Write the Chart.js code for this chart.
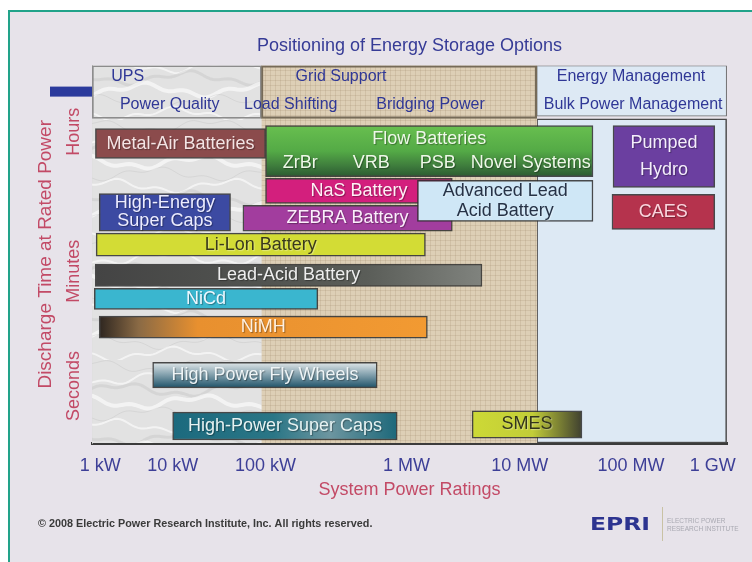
<!DOCTYPE html>
<html>
<head>
<meta charset="utf-8">
<title>Positioning of Energy Storage Options</title>
<script src="https://cdn.jsdelivr.net/npm/chart.js@4.4.1/dist/chart.umd.min.js"></script>
<style>
  html, body { margin: 0; padding: 0; background: #fff; overflow: hidden; }
  canvas { display: block; }
</style>
</head>
<body>
<canvas id="storageChart" width="752" height="562"></canvas>
<script>
// Power rating axis
const tickLabels = ['1 kW', '10 kW', '100 kW', '1 MW', '10 MW', '100 MW', '1 GW'];
// where each decade sits on the printed axis (it is not evenly spaced)
const tickSpots = [0, 0.71, 1.62, 3.0, 4.11, 5.2, 6.0];

// Discharge time axis (relative height, 0 = bottom, 100 = top)
const timeLabels = ['Seconds', 'Minutes', 'Hours'];
const timeSpots = [15.1, 45.5, 82.5];

// Storage technologies
const techNames = [
    'Metal-Air Batteries',
    'Flow Batteries\n   ZrBr       VRB      PSB   Novel Systems',
    'Pumped\nHydro',
    'CAES',
    'NaS Battery',
    'ZEBRA Battery',
    'High-Energy\nSuper Caps',
    'Advanced Lead\nAcid Battery',
    'Li-Lon Battery',
    'Lead-Acid Battery',
    'NiCd',
    'NiMH',
    'High Power Fly Wheels',
    'High-Power Super Caps',
    'SMES'
];
const powerMinKW = [0.86, 100, 68900, 67400, 100, 57, 0.97, 1250, 0.88, 0.855, 0.83, 0.97, 5.3, 10, 3800];
const powerMaxKW = [100, 45500, 1060000, 1060000, 2540, 2540, 42, 45500, 1470, 4640, 235, 1530, 620, 860, 36200];
const timeLow = [75.4, 70.6, 67.7, 56.6, 63.5, 56.1, 56.1, 58.7, 49.5, 41.5, 35.4, 27.8, 14.6, 0.8, 1.3];
const timeHigh = [83.3, 84.1, 84.1, 65.9, 70.1, 63.0, 66.1, 69.6, 55.6, 47.4, 41.0, 33.6, 21.4, 8.2, 8.5];

// Application zones
const zoneMinKW = [0.78, 90, 14200];
const zoneMaxKW = [90, 14200, 1480000];
const appNames = ['UPS', 'Power Quality', 'Grid Support', 'Load Shifting', 'Bridging Power', 'Energy Management', 'Bulk Power Management'];
const appKW = [2.4, 9.1, 343, 151, 1630, 100000, 106000];
const appRow = [97.1, 89.7, 97.1, 89.7, 89.7, 97.1, 89.7];

// Styles
const techFills = [
    '#8b4b4c',
    { dir: 'v', stops: [[0, '#68bf4f'], [0.5, '#54aa46'], [0.78, '#3f7e3d'], [1, '#2c5a31']] },
    '#6b3fa0',
    '#b5334d',
    '#d31f7d',
    '#a23d9e',
    '#3c4aa2',
    '#cfe7f6',
    '#d3dc35',
    { dir: 'h', stops: [[0, '#444444'], [0.7, '#5a5d58'], [1, '#80837e']] },
    '#3ab6cf',
    { dir: 'h', stops: [[0, '#2e2620'], [0.12, '#8a6a45'], [0.3, '#e8902f'], [1, '#f29a32']] },
    { dir: 'v', stops: [[0, '#e2e8ea'], [0.45, '#8aa6b2'], [1, '#1e5268']] },
    { dir: 'h', stops: [[0, '#1c6a7e'], [0.45, '#2a7686'], [0.7, '#6d96a0'], [1, '#1d687a']] },
    { dir: 'h', stops: [[0, '#cdd936'], [0.55, '#c2cd38'], [1, '#3f4030']] }
];
const techText = ['#f4e4e4', '#eef8e8', '#f4eefc', '#fbd6de', '#fff0f6', '#fbeefb', '#ececff', '#263246',
    '#3a3a1c', '#eeeeee', '#eef8ff', '#fff0e0', '#eef4f6', '#e6f2f2', '#33351c'];

const FONT = "'Liberation Sans', Arial, sans-serif";
const axisMin = -0.08;
const axisMax = 6.14;

// Convert kW to a position on the printed axis
function toAxis(kw) {
    const L = Math.log10(kw);
    const i = Math.max(0, Math.min(tickSpots.length - 2, Math.floor(L)));
    return tickSpots[i] + (L - i) * (tickSpots[i + 1] - tickSpots[i]);
}

// Bar thickness follows the discharge-time span
function spanThickness(ctx) {
    const ys = ctx.chart.scales.y;
    const s = ctx.dataset.span;
    if (!ys) return 10;
    return Math.abs(ys.getPixelForValue(s[0]) - ys.getPixelForValue(s[1]));
}

function boxFill(spec) {
    if (typeof spec !== 'object' || spec.stops === undefined) return spec;
    return (ctx) => {
        const chart = ctx.chart;
        if (!chart.chartArea) return spec.stops[spec.stops.length - 1][1];
        const ds = ctx.dataset;
        const xs = chart.scales.x, ys = chart.scales.y;
        const x0 = xs.getPixelForValue(ds.data[0].x[0]);
        const x1 = xs.getPixelForValue(ds.data[0].x[1]);
        const y0 = ys.getPixelForValue(ds.span[1]);
        const y1 = ys.getPixelForValue(ds.span[0]);
        const g = spec.dir === 'h'
            ? chart.ctx.createLinearGradient(x0, 0, x1, 0)
            : chart.ctx.createLinearGradient(0, y0, 0, y1);
        spec.stops.forEach(s => g.addColorStop(s[0], s[1]));
        return g;
    };
}

// Background textures
function marblePattern() {
    const size = 120;
    const c = document.createElement('canvas');
    c.width = size; c.height = size;
    const g = c.getContext('2d');
    g.fillStyle = '#e2e2e2';
    g.fillRect(0, 0, size, size);
    g.lineCap = 'round';
    g.lineJoin = 'round';
    for (let k = 0; k < 10; k++) {
        g.strokeStyle = k % 2 ? 'rgba(255,255,255,0.6)' : 'rgba(165,165,165,0.2)';
        g.lineWidth = 1 + (k % 4);
        g.beginPath();
        for (let t = 0; t <= size; t += 3) {
            const a = 2 * Math.PI * t / size;
            const y = k * 12 + 6 + 5 * Math.sin(a + k * 2.3) + 2.5 * Math.sin(3 * a + k);
            if (t === 0) g.moveTo(t, y); else g.lineTo(t, y);
        }
        g.stroke();
    }
    return g.createPattern(c, 'repeat');
}

function weavePattern() {
    const c = document.createElement('canvas');
    c.width = 5; c.height = 5;
    const g = c.getContext('2d');
    g.fillStyle = '#ddcfb6';
    g.fillRect(0, 0, 5, 5);
    g.fillStyle = 'rgba(140,118,86,0.16)';
    g.fillRect(0, 0, 5, 1);
    g.fillRect(0, 0, 1, 5);
    return g.createPattern(c, 'repeat');
}

function boxDataset(kwLo, kwHi, lo, hi, extra) {
    return Object.assign({
        data: [{ y: (lo + hi) / 2, x: [toAxis(kwLo), toAxis(kwHi)] }],
        span: [lo, hi],
        barThickness: spanThickness,
        grouped: false,
        borderSkipped: false
    }, extra);
}

const datasets = [];

// Zone backgrounds
const zoneFills = [marblePattern(), weavePattern(), '#dde9f4'];
datasets.push(boxDataset(zoneMinKW[0], zoneMaxKW[0], 0, 100, { backgroundColor: zoneFills[0], borderWidth: 0, order: 100 }));
datasets.push(boxDataset(zoneMinKW[1], zoneMaxKW[1], 0, 100, { backgroundColor: zoneFills[1], borderWidth: 0, order: 100 }));
datasets.push(boxDataset(zoneMinKW[2], zoneMaxKW[2], 0, 85.9, { backgroundColor: zoneFills[2], borderWidth: 1.5, borderColor: '#4a4a4a', order: 100 }));
datasets.push(boxDataset(zoneMinKW[2], zoneMaxKW[2], 86.6, 100, { backgroundColor: zoneFills[2], borderWidth: 1, borderColor: '#6a6a6a', order: 100 }));
// Header frames for the two left zones
datasets.push(boxDataset(zoneMinKW[0], zoneMaxKW[0], 86, 100, { backgroundColor: 'rgba(0,0,0,0)', borderWidth: 1, borderColor: '#8c8c8c', order: 90 }));
datasets.push(boxDataset(zoneMinKW[1], zoneMaxKW[1], 86, 100, { backgroundColor: 'rgba(0,0,0,0)', borderWidth: 1.5, borderColor: '#766b58', order: 90 }));

// Technology boxes
techNames.forEach((name, i) => {
    datasets.push(boxDataset(powerMinKW[i], powerMaxKW[i], timeLow[i], timeHigh[i], {
        label: name,
        caption: name,
        captionColor: techText[i],
        backgroundColor: boxFill(techFills[i]),
        borderWidth: 1.5,
        borderColor: 'rgba(45,45,45,0.85)',
        order: techNames.length - i
    }));
});

// Page frame, footer and logo
const pagePlugin = {
    id: 'page',
    beforeDraw(chart) {
        const { ctx, width, height, chartArea } = chart;
        ctx.save();
        ctx.fillStyle = '#ffffff';
        ctx.fillRect(0, 0, width, height);
        ctx.fillStyle = '#e7e3ea';
        ctx.fillRect(9, 11, width - 9, height - 11);
        ctx.fillStyle = '#22a38a';
        ctx.fillRect(8, 10, width - 8, 2);
        ctx.fillRect(8, 10, 2, height - 10);
        ctx.fillStyle = '#2b3a9c';
        ctx.fillRect(chartArea.left - 42, chartArea.top + 21, 42, 10);
        ctx.restore();
    },
    afterDraw(chart) {
        const ctx = chart.ctx;
        ctx.save();
        ctx.textBaseline = 'middle';
        ctx.textAlign = 'left';
        ctx.fillStyle = '#3a3a3a';
        ctx.font = 'bold 10.8px ' + FONT;
        ctx.fillText('\u00A9 2008 Electric Power Research Institute, Inc. All rights reserved.', 38, 524);

        // EPRI mark
        ctx.save();
        ctx.translate(590, 526);
        ctx.scale(1.38, 1);
        ctx.fillStyle = '#2d3490';
        ctx.font = "bold 17px 'DejaVu Sans', sans-serif";
        ctx.fillText('EPRI', 0, 0);
        ctx.restore();
        ctx.strokeStyle = '#c9c2a4';
        ctx.lineWidth = 1;
        ctx.beginPath();
        ctx.moveTo(662.5, 507);
        ctx.lineTo(662.5, 541);
        ctx.stroke();
        ctx.fillStyle = '#a9a9b2';
        ctx.font = '6.5px ' + FONT;
        ctx.fillText('ELECTRIC POWER', 667, 521);
        ctx.fillText('RESEARCH INSTITUTE', 667, 529);
        ctx.restore();
    }
};

// Text inside each technology box
const boxLabels = {
    id: 'boxLabels',
    afterDatasetDraw(chart, args) {
        const ds = chart.data.datasets[args.index];
        if (!ds.caption) return;
        const bar = args.meta.data[0];
        const cx = (bar.x + bar.base) / 2;
        const lines = ds.caption.split('\n');
        const gap = Math.min(bar.height / lines.length, 29) * 0.95;
        const ctx = chart.ctx;
        ctx.save();
        ctx.font = '18px ' + FONT;
        ctx.textAlign = 'center';
        ctx.textBaseline = 'middle';
        const dark = ['#263246', '#3a3a1c', '#33351c'].includes(ds.captionColor);
        ctx.shadowColor = dark ? 'rgba(255,255,255,0.35)' : 'rgba(0,0,0,0.35)';
        ctx.shadowOffsetX = 1;
        ctx.shadowOffsetY = 1;
        ctx.shadowBlur = 1;
        ctx.fillStyle = ds.captionColor;
        lines.forEach((line, i) => {
            ctx.fillText(line, cx, bar.y + (i - (lines.length - 1) / 2) * gap);
        });
        ctx.restore();
    }
};

// Application names in the header row
const appLabels = {
    id: 'appLabels',
    afterDatasetsDraw(chart) {
        const { ctx, scales } = chart;
        ctx.save();
        ctx.font = '16px ' + FONT;
        ctx.textAlign = 'center';
        ctx.textBaseline = 'middle';
        ctx.fillStyle = '#2f3796';
        appNames.forEach((name, i) => {
            ctx.fillText(name, scales.x.getPixelForValue(toAxis(appKW[i])), scales.y.getPixelForValue(appRow[i]));
        });
        ctx.restore();
    }
};

Chart.defaults.font.family = FONT;

const chart = new Chart(document.getElementById('storageChart').getContext('2d'), {
    type: 'bar',
    data: { datasets: datasets },
    plugins: [pagePlugin, boxLabels, appLabels],
    options: {
        responsive: false,
        animation: false,
        events: [],
        indexAxis: 'y',
        layout: { padding: { left: 10, right: 25, top: 12, bottom: 0 } },
        plugins: {
            legend: { display: false },
            tooltip: { enabled: false },
            title: {
                display: true,
                fullSize: false,
                text: 'Positioning of Energy Storage Options',
                color: '#363b96',
                font: { size: 18, weight: 'normal' },
                padding: { top: 23, bottom: 9 }
            }
        },
        scales: {
            x: {
                type: 'linear',
                min: axisMin,
                max: axisMax,
                offset: false,
                afterBuildTicks: (axis) => { axis.ticks = tickSpots.map(v => ({ value: v })); },
                afterFit: (axis) => { axis.height = 119; },
                grid: { display: false, offset: false },
                border: { display: true, color: '#3b3b3b', width: 3 },
                ticks: {
                    autoSkip: false,
                    maxRotation: 0,
                    padding: 4,
                    color: '#3d3f97',
                    font: { size: 18 },
                    callback: (v, i) => tickLabels[i]
                },
                title: {
                    display: true,
                    text: 'System Power Ratings',
                    color: '#c34a66',
                    font: { size: 18 },
                    padding: { top: 0, bottom: 61 }
                }
            },
            y: {
                type: 'linear',
                min: 0,
                max: 100,
                offset: false,
                afterBuildTicks: (axis) => { axis.ticks = timeSpots.map(v => ({ value: v })); },
                afterFit: (axis) => {
                    axis.width = 82;
                    axis.paddingTop = 0;
                    axis.paddingBottom = 0;
                },
                grid: { display: false, offset: false },
                border: { display: true, color: '#a0a0a0', width: 1 },
                ticks: {
                    minRotation: 90,
                    maxRotation: 90,
                    crossAlign: 'center',
                    padding: -25,
                    color: '#c24a66',
                    font: { size: 18 },
                    callback: (v, i) => timeLabels[i]
                },
                title: {
                    display: true,
                    text: 'Discharge Time at Rated Power',
                    color: '#c24a66',
                    font: { size: 19 },
                    padding: { top: 24, bottom: 0 }
                }
            }
        }
    }
});
</script>
</body>
</html>
